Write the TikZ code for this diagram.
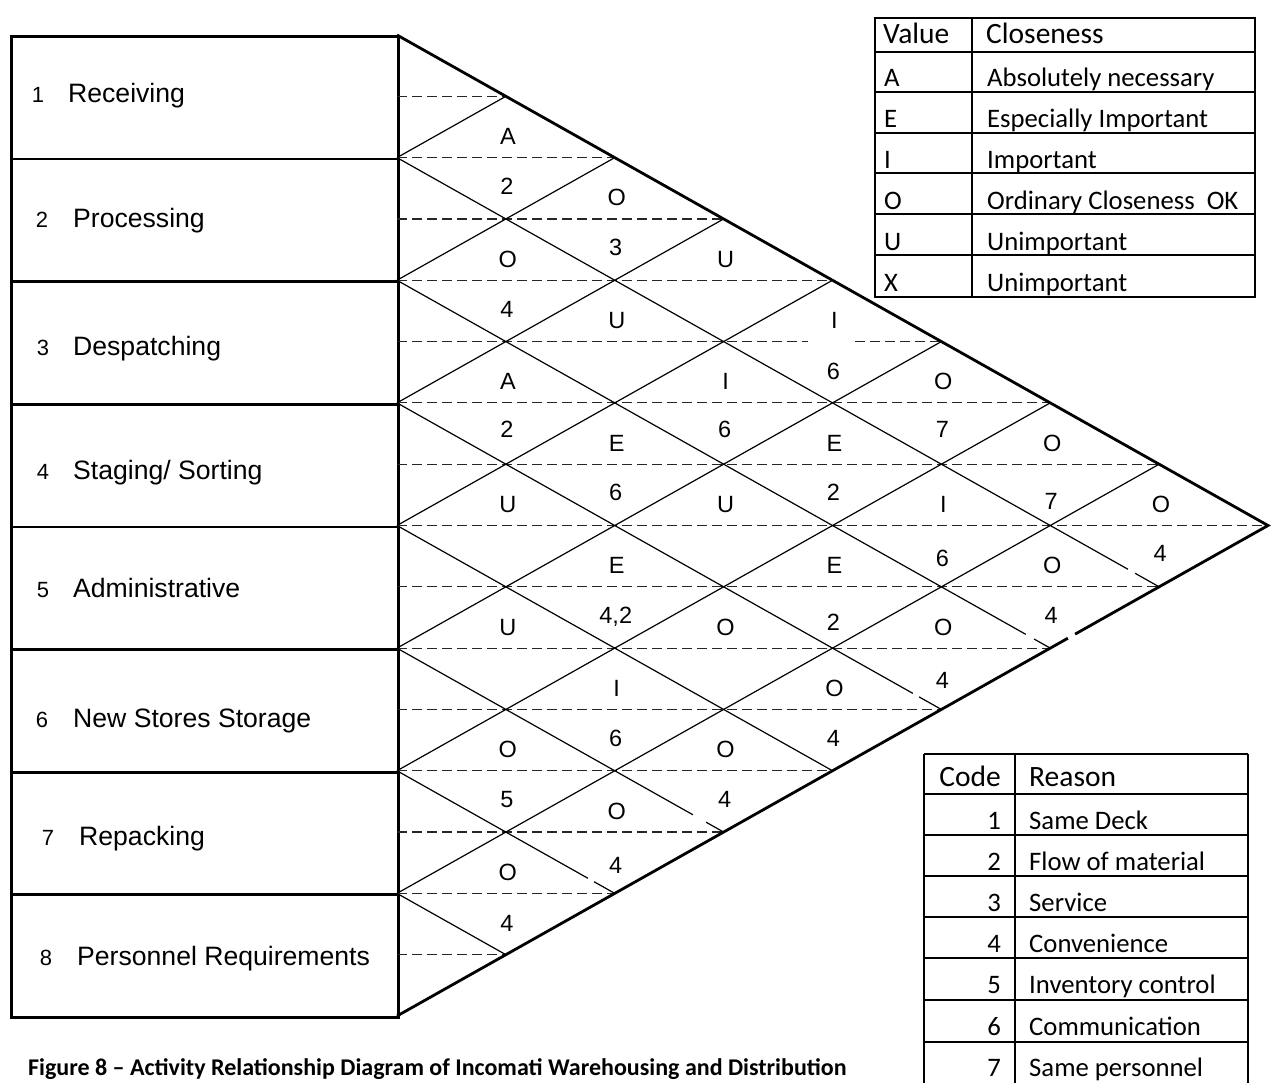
\documentclass[tikz,border=0pt]{standalone}
\usepackage{fontspec}
\setmainfont{Liberation Sans}
\newfontfamily\calibri{Carlito}
\begin{document}
\begin{tikzpicture}[x=1pt,y=-1pt,
  thickln/.style={line width=2.8pt},
  thinln/.style={line width=1.2pt},
  dashln/.style={line width=1.2pt, dash pattern=on 10pt off 5pt, black!85},
  tblln/.style={line width=2pt},
  breakln/.style={white, line width=4.5pt},
  rowbox/.style={draw, line width=2.8pt, minimum width=387pt, minimum height=122.625pt,
                 inner sep=0pt, anchor=north west},
  lbl/.style={inner sep=0pt, anchor=base west, font=\fontsize{26.6}{30}\selectfont},
  num/.style={inner sep=0pt, anchor=base, font=\fontsize{22}{26}\selectfont},
  rel/.style={inner sep=0pt, anchor=base, font=\fontsize{23.5}{27}\selectfont},
  cell/.style={inner sep=0pt, anchor=base west, font=\calibri\fontsize{26.7}{30}\selectfont},
  cellr/.style={inner sep=0pt, anchor=base east, font=\calibri\fontsize{26.7}{30}\selectfont},
  head/.style={inner sep=0pt, anchor=base west, font=\calibri\fontsize{29.5}{33}\selectfont},
  headr/.style={inner sep=0pt, anchor=base east, font=\calibri\fontsize{29.5}{33}\selectfont}
]
\useasboundingbox (0,0) rectangle (1272,1082);
\clip (0,0) rectangle (1272,1082);

% ---------- department boxes ----------
\foreach \k in {1,...,8}{
  \node[rowbox] (box\k) at (10,{35+(\k-1)*122.625}) {};
}
\foreach \k/\nx/\tx/\by/\txt in {
  1/38/68/102/{Receiving},
  2/42/73/227/{Processing},
  3/43/73/355/{Despatching},
  4/43/73/479/{Staging/ Sorting},
  5/43/73/597/{Administrative},
  6/42/73/727/{New Stores Storage},
  7/48/79/845/{Repacking},
  8/46/77/965/{Personnel Requirements}}{
  \node[num] (num\k) at (\nx,\by) {\k};
  \node[lbl] (dep\k) at (\tx,\by) {\txt};
}

% ---------- relationship triangle ----------
\foreach \k in {0,...,8}{
  \coordinate (P\k) at (397,{35+\k*122.625});
}
\coordinate (apex) at (1268,525.5);

% horizontal dashed guides at every half row
\foreach \m in {1,...,15}{
  \pgfmathsetmacro\yy{35+\m*61.3125}
  \pgfmathsetmacro\xe{397+min(\m,16-\m)*108.875}
  \ifnum\m=5\relax
    \draw[dashln] (397,\yy) -- (808,\yy);
    \draw[dashln] (855,\yy) -- (\xe,\yy);
  \else
    \draw[dashln] (397,\yy) -- (\xe,\yy);
  \fi
}

% diagonals from each row boundary
\foreach \k in {1,...,7}{
  \draw[thinln] (P\k) -- ++({\k*108.875},{-\k*61.3125});
  \draw[thinln] (P\k) -- ++({(8-\k)*108.875},{(8-\k)*61.3125});
}
\draw[thickln] (P0) -- (apex) -- (P8);

% short breaks in some diagonals, left by the code labels
\foreach \k/\xa/\xb in {1/1128/1135, 2/1026/1034, 3/913/919, 5/693/706, 6/588/594}{
  \draw[breakln] (\xa,{35+\k*122.625+(\xa-397)*0.563145}) -- (\xb,{35+\k*122.625+(\xb-397)*0.563145});
}
\draw[breakln, line width=5pt] (1068,{1016-(1068-397)*0.563145}) -- (1075,{1016-(1075-397)*0.563145});

% closeness values (upper half of each diamond)
\foreach \i/\j/\l in {
  1/2/A, 1/3/O, 1/4/U, 1/5/I, 1/6/O, 1/7/O, 1/8/O,
  2/3/O, 2/4/U, 2/5/I, 2/6/E, 2/7/I, 2/8/O,
  3/4/A, 3/5/E, 3/6/U, 3/7/E, 3/8/O,
  4/5/U, 4/6/E, 4/7/O, 4/8/O,
  5/6/U, 5/7/I, 5/8/O,
  6/7/O, 6/8/O,
  7/8/O}{
  \pgfmathsetmacro\xc{397+(\j-\i)*108.875+2}
  \pgfmathsetmacro\yc{35+(\i-1+\j)*61.3125-13}
  \node[rel] (v-\i-\j) at (\xc,\yc) {\l};
}
% reason codes (lower half of each diamond)
\foreach \i/\j/\c/\o in {
  1/2/2/37, 1/3/3/37, 1/5/6/38, 1/6/7/35, 1/7/7/45, 1/8/4/36,
  2/3/4/37, 2/5/6/35, 2/6/2/36, 2/7/6/41, 2/8/4/37,
  3/4/2/35, 3/5/6/36, 3/7/2/44, 3/8/4/40,
  4/6/{4,2}/37, 4/8/4/37,
  5/7/6/37, 5/8/4/37,
  6/7/5/37, 6/8/4/41,
  7/8/4/38}{
  \pgfmathsetmacro\xc{397+(\j-\i)*108.875+1}
  \pgfmathsetmacro\yc{35+(\i-1+\j)*61.3125+\o}
  \node[rel] (r-\i-\j) at (\xc,\yc) {\c};
}

% ---------- closeness legend ----------
\draw[tblln] (875,18) rectangle (1255,297);
\foreach \yy in {52,92,133,173,214,255}{
  \draw[tblln] (875,\yy) -- (1255,\yy);
}
\draw[tblln] (972,18) -- (972,297);
\node[head] (val0) at (883,43) {Value};
\node[head] (cls0) at (986,43) {Closeness};
\foreach \n/\by/\v/\t in {
  1/86/A/{Absolutely necessary},
  2/127/E/{Especially Important},
  3/168/I/{Important},
  4/209/O/{Ordinary Closeness\ \ OK},
  5/250/U/{Unimportant},
  6/291/X/{Unimportant}}{
  \node[cell] (val\n) at (884,\by) {\v};
  \node[cell] (cls\n) at (987,\by) {\t};
}

% ---------- reason legend ----------
\draw[tblln] (924,754) -- (924,1090) (1015,754) -- (1015,1090) (1248,754) -- (1248,1090);
\foreach \yy in {754,794,835,876,917,958,1000,1042}{
  \draw[tblln] (924,\yy) -- (1248,\yy);
}
\node[headr] (code0) at (1001,786) {Code};
\node[head] (why0) at (1029,786) {Reason};
\foreach \n/\by/\c/\t in {
  1/829/1/{Same Deck},
  2/870/2/{Flow of material},
  3/911/3/{Service},
  4/952/4/{Convenience},
  5/993/5/{Inventory control},
  6/1035/6/{Communication},
  7/1076/7/{Same personnel}}{
  \node[cellr] (code\n) at (1001,\by) {\c};
  \node[cell] (why\n) at (1029,\by) {\t};
}

% ---------- caption ----------
\node[inner sep=0pt, anchor=base west, font=\calibri\bfseries\fontsize{24}{28}\selectfont]
  (caption) at (28,1075) {Figure 8 – Activity Relationship Diagram of Incomati Warehousing and Distribution};
\end{tikzpicture}
\end{document}
